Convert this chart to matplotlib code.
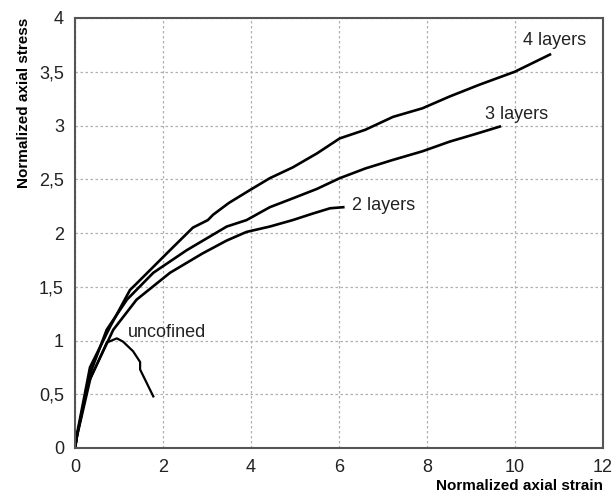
import matplotlib.pyplot as plt
from matplotlib.ticker import FuncFormatter

plt.rcParams['font.family'] = ['Liberation Sans', 'DejaVu Sans']

# curves (normalized strain, normalized stress)
strain_4 = [0, 0.05, 0.34, 0.8, 1.25, 1.4, 2.16, 2.68, 3.02, 3.14, 3.5, 3.98, 4.43, 4.95,
            5.5, 6.02, 6.6, 7.23, 7.9, 8.52, 9.2, 10.0, 10.4, 10.8]
stress_4 = [0, 0.14, 0.75, 1.13, 1.47, 1.53, 1.84, 2.05, 2.12, 2.17, 2.28, 2.4, 2.51, 2.61,
            2.74, 2.88, 2.96, 3.08, 3.16, 3.27, 3.38, 3.5, 3.58, 3.66]

strain_3 = [0, 0.05, 0.35, 0.72, 1.18, 1.78, 2.54, 3.45, 3.9, 4.43, 5.0, 5.5, 6.02, 6.6,
            7.23, 7.9, 8.52, 9.1, 9.66]
stress_3 = [0, 0.13, 0.7, 1.1, 1.38, 1.63, 1.84, 2.06, 2.12, 2.24, 2.33, 2.41, 2.51, 2.6,
            2.68, 2.76, 2.85, 2.92, 2.99]

strain_2 = [0, 0.05, 0.35, 0.87, 1.4, 2.16, 2.9, 3.45, 3.9, 4.43, 4.95, 5.4, 5.8, 6.1]
stress_2 = [0, 0.12, 0.65, 1.1, 1.38, 1.63, 1.81, 1.93, 2.01, 2.06, 2.12, 2.18, 2.23, 2.24]

strain_u = [0, 0.05, 0.3, 0.72, 0.95, 1.09, 1.32, 1.48, 1.48, 1.78]
stress_u = [0, 0.12, 0.6, 0.98, 1.02, 0.99, 0.9, 0.8, 0.73, 0.48]

fig = plt.figure(figsize=(6.15, 5.0), dpi=100)
ax = fig.add_axes([0.122, 0.104, 0.858, 0.86])

for xs, ys in [(strain_4, stress_4), (strain_3, stress_3), (strain_2, stress_2)]:
    ax.plot(xs, ys, color='black', lw=1.9, solid_joinstyle='round')
ax.plot(strain_u, stress_u, color='black', lw=1.6, solid_joinstyle='round')

ax.text(10.18, 3.79, '4 layers', fontsize=13, va='center', color='#222222')
ax.text(9.32, 3.1, '3 layers', fontsize=13, va='center', color='#222222')
ax.text(6.3, 2.26, '2 layers', fontsize=13, va='center', color='#222222')
ax.text(1.2, 1.07, 'uncofined', fontsize=13, va='center', color='#222222')

ax.set_xlim(0, 12)
ax.set_ylim(0, 4)
ax.set_xticks(range(0, 13, 2))
ax.set_yticks([i * 0.5 for i in range(9)])
ax.yaxis.set_major_formatter(FuncFormatter(lambda v, p: ('%g' % v).replace('.', ',')))
ax.tick_params(length=0, labelsize=13, pad=8, labelcolor='#222222')
ax.grid(True, color='#b0b0b0', linestyle=(0, (2, 2)), lw=0.9)

for s in ax.spines.values():
    s.set_color('#555555')
    s.set_linewidth(1.5)

ax.set_xlabel('Normalized axial strain', fontsize=11, fontweight='bold', loc='right', labelpad=2)
ax.set_ylabel('Normalized axial stress', fontsize=11, fontweight='bold', loc='top', labelpad=6)

fig.savefig('out.png', dpi=100)
